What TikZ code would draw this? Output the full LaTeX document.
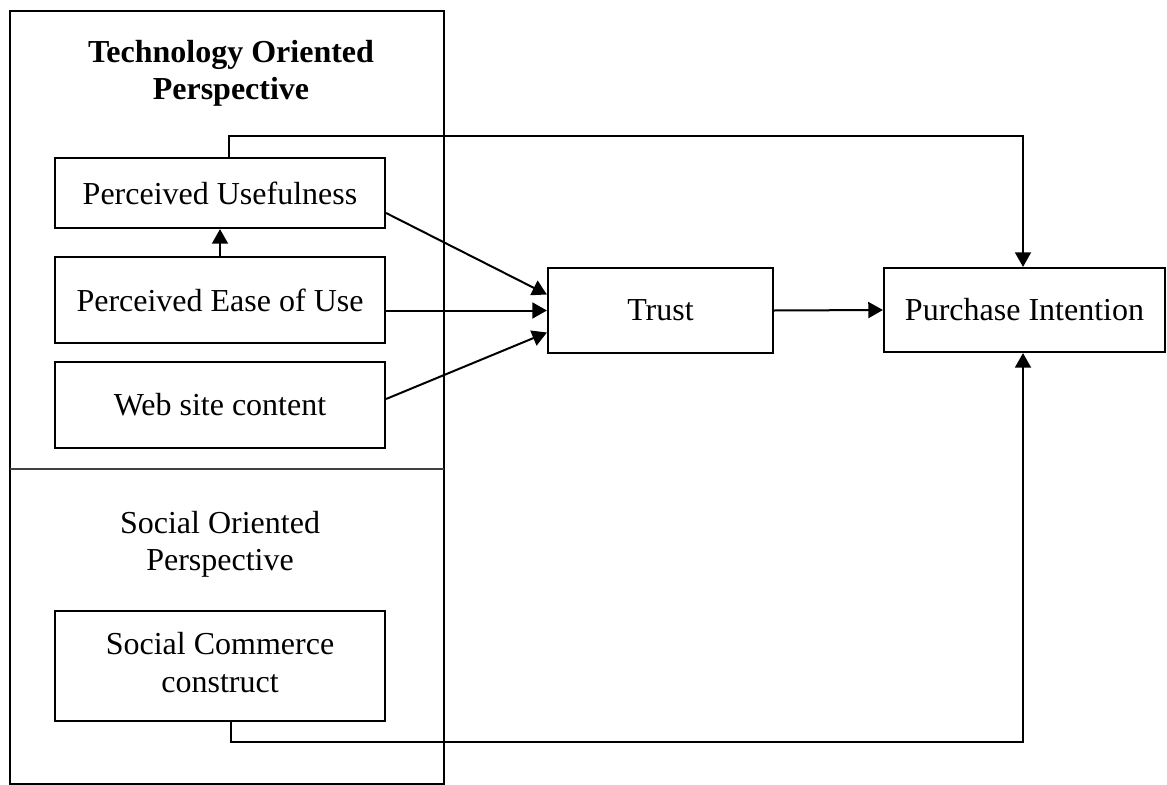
\documentclass[tikz,border=0pt]{standalone}
\usepackage{fontspec}
\setmainfont{Liberation Serif}
\usetikzlibrary{arrows.meta,calc}
\begin{document}
\begin{tikzpicture}[x=0.75pt,y=-0.75pt,
  every node/.style={font=\fontsize{24}{28}\selectfont},
  box/.style={draw,line width=1.6pt,inner sep=0pt,align=center},
  lbox/.style={box,minimum width=247.5pt},
  link/.style={line width=1.5pt,-{Triangle[length=11pt,width=12pt]}},
  plain/.style={line width=1.5pt}]
\useasboundingbox (0,0) rectangle (1167,785);

% perspective frame
\draw[line width=1.5pt] (10,11) rectangle (444,784);
\draw[line width=1pt,black!75] (10,469) -- (444,469);
\node[font=\fontsize{24}{28}\selectfont\bfseries,align=center] (tech) at (231,73)
  {Technology Oriented\\Perspective};
\node[align=center] (social) at (220,544) {Social Oriented\\Perspective};

% constructs
\node[lbox,minimum height=52.5pt] (pu) at (220,193) {Perceived Usefulness};
\node[lbox,minimum height=64.5pt] (peou) at (220,300) {Perceived Ease of Use};
\node[lbox,minimum height=64.5pt] (wsc) at (220,405) {Web site content};
\node[lbox,minimum height=82.5pt] (scc) at (220,666) {\raisebox{4pt}{\begin{tabular}{@{}c@{}}Social Commerce\\[1pt]construct\end{tabular}}};
\node[box,minimum width=168.75pt,minimum height=63.75pt] (trust) at (660.5,310.5) {Trust};
\node[box,minimum width=210.75pt,minimum height=63pt] (pi) at (1024.5,310) {Purchase Intention};

% relations
\draw[link] (peou.north) -- (pu.south);
\draw[link] ($(pu.east)+(0,20)$) -- ($(trust.west)+(0,-16)$);
\draw[link] (peou.east |- trust.west) -- (trust.west);
\draw[link] ($(wsc.east)+(0,-6)$) -- ($(trust.west)+(0,22)$);
\draw[link] (trust.east) -- (pi.west);
\draw[link] ($(pu.north)+(9,0)$) -- ++(0,-21) -| ($(pi.north)+(-1.5,0)$);
\draw[link] ($(scc.south)+(11,0)$) -- ++(0,20) -| ($(pi.south)+(-1.5,0)$);
\end{tikzpicture}
\end{document}
